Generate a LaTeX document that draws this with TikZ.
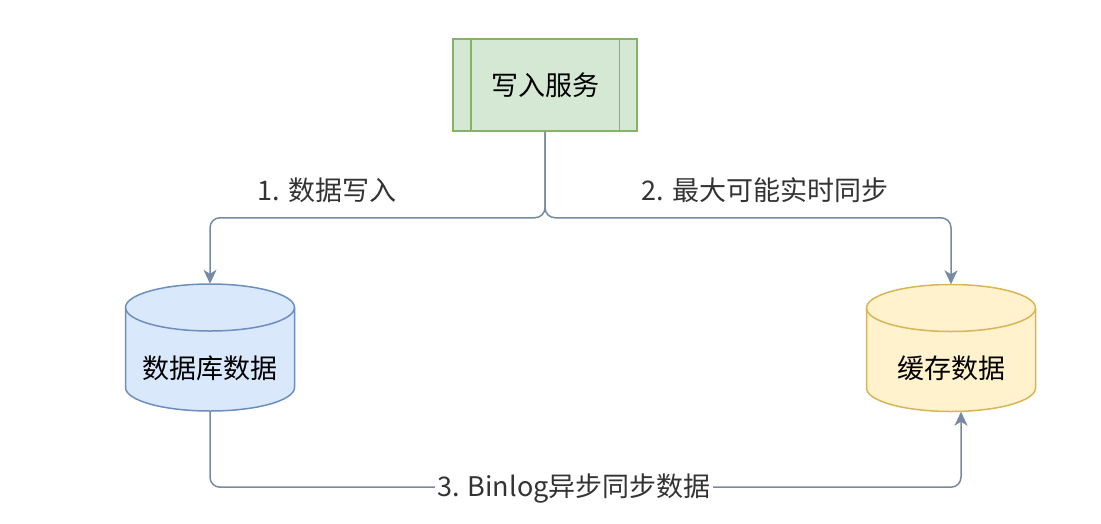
\documentclass[tikz,border=0pt]{standalone}
\usepackage{fontspec}
\setmainfont{Noto Sans CJK SC}
\usetikzlibrary{arrows.meta}
\definecolor{edgegray}{HTML}{788AA3}
\definecolor{labelgray}{HTML}{333333}
\definecolor{svcfill}{HTML}{D5E8D4}
\definecolor{svcdraw}{HTML}{82B366}
\definecolor{dbfill}{HTML}{DAE8FC}
\definecolor{dbdraw}{HTML}{6C8EBF}
\definecolor{cachefill}{HTML}{FFF2CC}
\definecolor{cachedraw}{HTML}{D6B656}
% cylinder outline round a centre: #1 centre, #2 fill, #3 draw
\newcommand{\storeshape}[3]{%
  \filldraw[fill=#2, draw=#3, line width=1.5pt] (#1) ++(-84.5,-40) -- ++(0,80)
    arc[start angle=180, end angle=360, x radius=84.5pt, y radius=23.5pt] -- ++(0,-80)
    arc[start angle=0, end angle=180, x radius=84.5pt, y radius=23.5pt] -- cycle;
  \draw[draw=#3, line width=1.5pt] (#1) ++(-84.5,-40)
    arc[start angle=180, end angle=360, x radius=84.5pt, y radius=23.5pt];}
\tikzset{
  store/.style={shape=rectangle, minimum width=169pt, minimum height=127pt, inner sep=0pt,
    text height=68pt, text depth=7pt, font=\fontsize{27}{32}\selectfont},
  flow/.style={draw=edgegray, line width=1.5pt, rounded corners=10pt,
    -{Stealth[length=14pt,width=13pt,inset=4pt]}},
  steplabel/.style={text=labelgray, font=\fontsize{27}{32}\selectfont, inner sep=2pt}
}
\begin{document}
\begin{tikzpicture}[x=1pt, y=-1pt]
\useasboundingbox (0,0) rectangle (1101,523);
\node[shape=rectangle, draw=svcdraw, fill=svcfill, line width=1.5pt, minimum width=184pt, minimum height=92pt, font=\fontsize{27}{32}\selectfont] (svc) at (545,85) {写入服务};
\draw[svcdraw, line width=1.5pt] ([xshift=18.5pt]svc.north west) -- ([xshift=18.5pt]svc.south west);
\draw[svcdraw, line width=1.5pt] ([xshift=-18.5pt]svc.north east) -- ([xshift=-18.5pt]svc.south east);
\storeshape{210,347.5}{dbfill}{dbdraw}
\storeshape{951,348}{cachefill}{cachedraw}
\node[store] (db) at (210,347.5) {数据库数据};
\node[store] (cache) at (951,348) {缓存数据};
\path[flow] (svc.south) -- ++(0,86) -| (db.north);
\path[flow] (svc.south) -- ++(0,86) -| (cache.north);
\path[flow] (db.south) -- ++(0,76) -| ([xshift=10pt]cache.south);
\node[steplabel] (w1) at (327,190) {1. 数据写入};
\node[steplabel] (w2) at (765,190) {2. 最大可能实时同步};
\node[steplabel, fill=white] (w3) at (574,489) {3. Binlog异步同步数据};
\end{tikzpicture}
\end{document}
